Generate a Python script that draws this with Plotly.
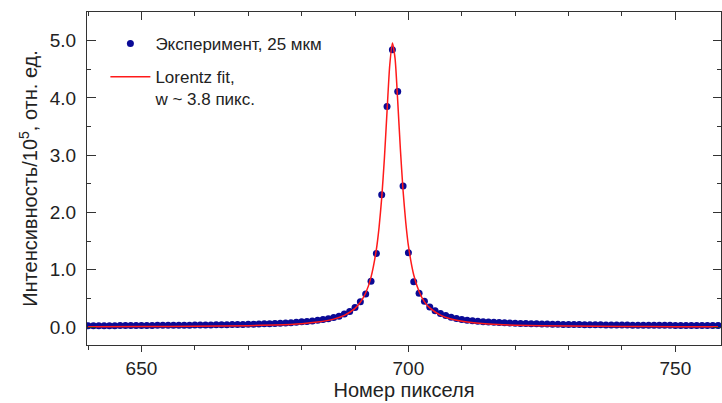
import plotly.graph_objects as go

# Experimental data (pixel number, intensity / 1e5)
pixels = list(range(640, 759))
intensity = [
    0.022, 0.022, 0.023, 0.023, 0.024, 0.024, 0.025, 0.025, 0.026, 0.026,  # 640-649
    0.027, 0.027, 0.028, 0.029, 0.029, 0.030, 0.031, 0.031, 0.032, 0.033,  # 650-659
    0.034, 0.035, 0.036, 0.037, 0.038, 0.039, 0.041, 0.042, 0.044, 0.046,  # 660-669
    0.048, 0.050, 0.053, 0.056, 0.059, 0.062, 0.066, 0.070, 0.075, 0.082,  # 670-679
    0.090, 0.098, 0.107, 0.118, 0.130, 0.146, 0.166, 0.190, 0.228, 0.272,  # 680-689
    0.340, 0.440, 0.575, 0.800, 1.285, 2.310, 3.850, 4.840, 4.110, 2.460,  # 690-699
    1.295, 0.790, 0.590, 0.448, 0.350, 0.282, 0.236, 0.200, 0.172, 0.150,  # 700-709
    0.132, 0.120, 0.110, 0.101, 0.094, 0.088, 0.082, 0.077, 0.073, 0.069,  # 710-719
    0.066, 0.063, 0.060, 0.057, 0.055, 0.053, 0.051, 0.049, 0.047, 0.046,  # 720-729
    0.044, 0.043, 0.042, 0.041, 0.040, 0.039, 0.038, 0.037, 0.036, 0.035,  # 730-739
    0.034, 0.034, 0.033, 0.032, 0.032, 0.031, 0.030, 0.030, 0.029, 0.029,  # 740-749
    0.028, 0.028, 0.027, 0.027, 0.026, 0.026, 0.025, 0.025, 0.025,         # 750-758
]

# Lorentz fit curve
fit_x = [640, 650, 660, 670, 675, 680, 683, 686, 688, 690, 691, 692, 693, 694,
         694.5, 695, 695.5, 696, 696.5, 697, 697.5, 698, 698.5, 699, 699.5, 700,
         701, 702, 703, 704, 706, 708, 711, 715, 720, 730, 740, 750, 758]
fit_y = [0.005, 0.008, 0.013, 0.024, 0.036, 0.059, 0.087, 0.138, 0.203, 0.326,
         0.432, 0.594, 0.872, 1.355, 1.736, 2.255, 2.940, 3.770, 4.565, 4.960,
         4.690, 3.940, 3.100, 2.380, 1.830, 1.420, 0.908, 0.620, 0.440, 0.335,
         0.208, 0.140, 0.088, 0.053, 0.033, 0.016, 0.009, 0.006, 0.005]

x_ticks = [650, 700, 750]
y_ticks = [0.0, 1.0, 2.0, 3.0, 4.0, 5.0]
x_range = [639.8, 758.55]
y_range = [-0.314, 5.5]

FONT = "Liberation Sans, Arial, sans-serif"
AX = "#333333"

fig = go.Figure()
fig.add_trace(go.Scatter(
    x=pixels, y=intensity, mode="markers",
    name="Эксперимент, 25 мкм", legendgroup="a",
    marker=dict(color="#0a0a96", size=7, line=dict(width=0)),
))
fig.add_trace(go.Scatter(
    x=fit_x, y=fit_y, mode="lines",
    name="Lorentz fit,<br>w ~ 3.8 пикс.", legendgroup="b",
    line=dict(color="#ff1a1a", width=1.5, shape="spline", smoothing=0.6),
))
# invisible trace to activate the mirror (top/right) axes
fig.add_trace(go.Scatter(x=x_range, y=y_range, xaxis="x2", yaxis="y2",
                         mode="markers", marker=dict(opacity=0),
                         showlegend=False, hoverinfo="skip"))

fig.update_layout(
    width=722, height=403,
    margin=dict(l=87, r=1, t=12, b=58, autoexpand=False),
    paper_bgcolor="white", plot_bgcolor="white",
    font=dict(family=FONT, size=19, color="#222222"),
    showlegend=True,
    legend=dict(x=0.029, y=0.958, xanchor="left", yanchor="top",
                bgcolor="rgba(0,0,0,0)", font=dict(size=17, color="#222222"),
                traceorder="grouped", tracegroupgap=8, itemwidth=40,
                valign="top"),
    xaxis=dict(range=x_range, tickvals=x_ticks, ticks="outside", ticklen=6,
               tickwidth=1.2, tickcolor=AX, showline=True, linecolor=AX,
               linewidth=1.2, showgrid=False, zeroline=False, automargin=False,
               minor=dict(dtick=10, tick0=640, ticks="outside", ticklen=4,
                          tickcolor=AX, showgrid=False),
               title=dict(text="Номер пикселя", standoff=2,
                          font=dict(size=20)),
               tickfont=dict(size=19)),
    yaxis=dict(range=y_range, tickvals=y_ticks, tickformat=".1f",
               ticks="inside", ticklen=9, tickwidth=1.2, tickcolor=AX,
               showline=True, linecolor=AX, linewidth=1.2, showgrid=False,
               zeroline=False, ticklabelstandoff=6, automargin=False,
               minor=dict(dtick=0.5, tick0=0, ticks="inside", ticklen=4,
                          tickcolor=AX, showgrid=False),
               title=dict(text="Интенсивность/10<sup>5</sup>, отн. ед.",
                          standoff=6, font=dict(size=20)),
               tickfont=dict(size=19)),
    xaxis2=dict(range=x_range, overlaying="x", side="top", anchor="y2",
                tickvals=x_ticks, ticks="inside", ticklen=8, tickwidth=1.2,
                tickcolor=AX, showline=True, linecolor=AX, linewidth=1.2,
                showticklabels=False, showgrid=False, zeroline=False,
                automargin=False,
                minor=dict(dtick=10, tick0=640, ticks="inside", ticklen=4,
                           tickcolor=AX, showgrid=False)),
    yaxis2=dict(range=y_range, overlaying="y", side="right", anchor="x2",
                tickvals=y_ticks, ticks="inside", ticklen=8, tickwidth=1.2,
                tickcolor=AX, showline=True, linecolor=AX, linewidth=1.2,
                showticklabels=False, showgrid=False, zeroline=False,
                automargin=False,
                minor=dict(dtick=0.5, tick0=0, ticks="inside", ticklen=4,
                           tickcolor=AX, showgrid=False)),
)

fig.write_html("out.html", config={"displayModeBar": False},
               post_script="document.body.style.margin='0';")
